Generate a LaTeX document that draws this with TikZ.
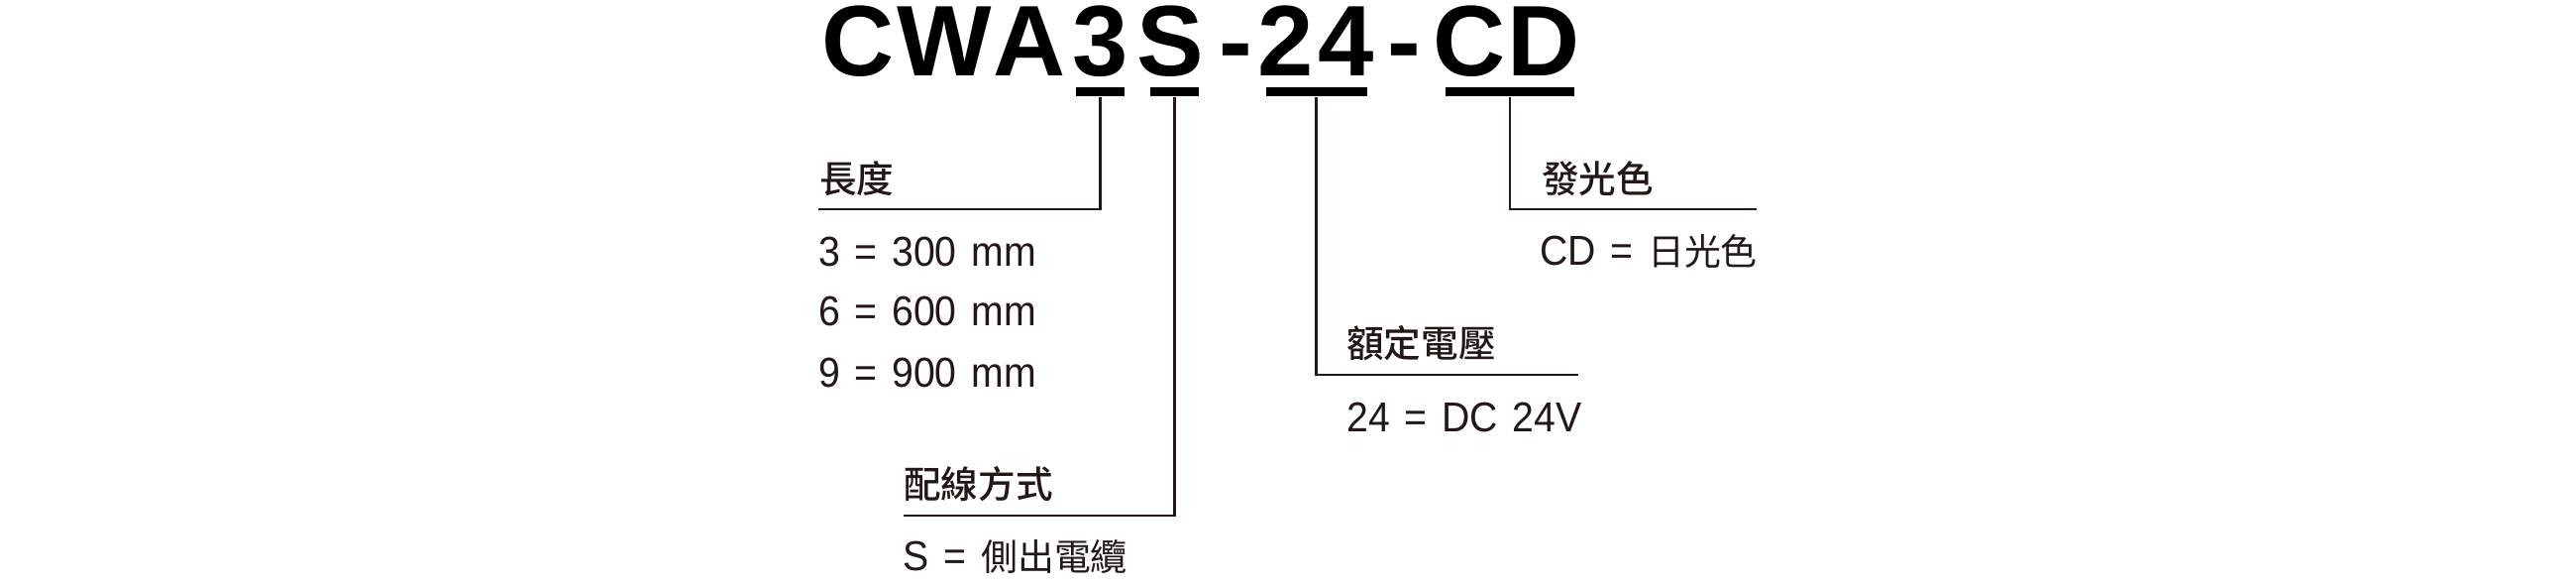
\documentclass[tikz,border=0pt]{standalone}
\usepackage{fontspec}
\setmainfont{Liberation Sans}
\newfontfamily\valfont{Liberation Sans}[FakeStretch=0.93,WordSpace=1.35]
\newfontfamily\cjk{Noto Sans CJK TC}
\newfontfamily\cjkh{Noto Sans CJK TC}[UprightFont={* Medium}]
\newcommand{\cjkv}[1]{{\fontsize{10.5}{13}\selectfont\cjk #1}}
\definecolor{ink}{HTML}{231815}
\begin{document}
\begin{tikzpicture}[x=0.1mm,y=-0.1mm,
  tl/.style={inner sep=0pt,anchor=base,text=black,font=\fontsize{28.8}{30}\selectfont\bfseries},
  hd/.style={inner sep=0pt,anchor=base west,text=ink,font=\fontsize{10.7}{13}\selectfont\cjkh},
  val/.style={inner sep=0pt,anchor=base west,text=ink,font=\fontsize{12}{14}\selectfont\valfont},
  bar/.style={fill=black,draw=none,inner sep=0pt,minimum height=0.9mm},
  lead/.style={draw=ink,line width=0.6pt}]
\useasboundingbox[fill=white] (0,0) rectangle (2600,590);
% title letters
\node[tl] (t1) at (866.5,76) {C};
\node[tl] (t2) at (953.5,76) {W};
\node[tl] (t3) at (1039.5,76) {A};
\node[tl] (t4) at (1110.5,76) {3};
\node[tl] (t5) at (1181,76) {S};
\node[tl] (t6) at (1247,76) {-};
\node[tl] (t7) at (1298,76) {2};
\node[tl] (t8) at (1359,76) {4};
\node[tl] (t9) at (1417.5,76) {-};
\node[tl] (t10) at (1483.5,76) {C};
\node[tl] (t11) at (1558.5,76) {D};
% bars
\node[bar,minimum width=4.9mm] (b3) at (1110.5,92.5) {};
\node[bar,minimum width=4.9mm] (bS) at (1185.5,92.5) {};
\node[bar,minimum width=10.2mm] (b24) at (1328.5,92.5) {};
\node[bar,minimum width=13mm] (bCD) at (1524,92.5) {};
% headings
\node[hd] (h1) at (826.5,194) {長度};
\node[hd] (h2) at (911.5,502) {配線方式};
\node[hd] (h3) at (1358.5,360) {額定電壓};
\node[hd] (h4) at (1555.5,194) {發光色};
% values
\node[val] (v1) at (825.5,268) {3 = 300 mm};
\node[val] (v2) at (825.5,328) {6 = 600 mm};
\node[val] (v3) at (825.5,390) {9 = 900 mm};
\node[val] (v4) at (911,575) {S = \cjkv{側出電纜}};
\node[val] (v5) at (1358.5,435) {24 = DC 24V};
\node[val] (v6) at (1553.5,267) {CD = \cjkv{日光色}};
% leader ends
\coordinate (e1) at (826,211);
\coordinate (e2) at (912,520);
\coordinate (e3) at (1593,378);
\coordinate (e4) at (1773,211);
\draw[lead] (b3.south) |- (e1);
\draw[lead] (bS.south) |- (e2);
\draw[lead] (b24.south) |- (e3);
\draw[lead] (bCD.south) |- (e4);
\end{tikzpicture}
\end{document}
